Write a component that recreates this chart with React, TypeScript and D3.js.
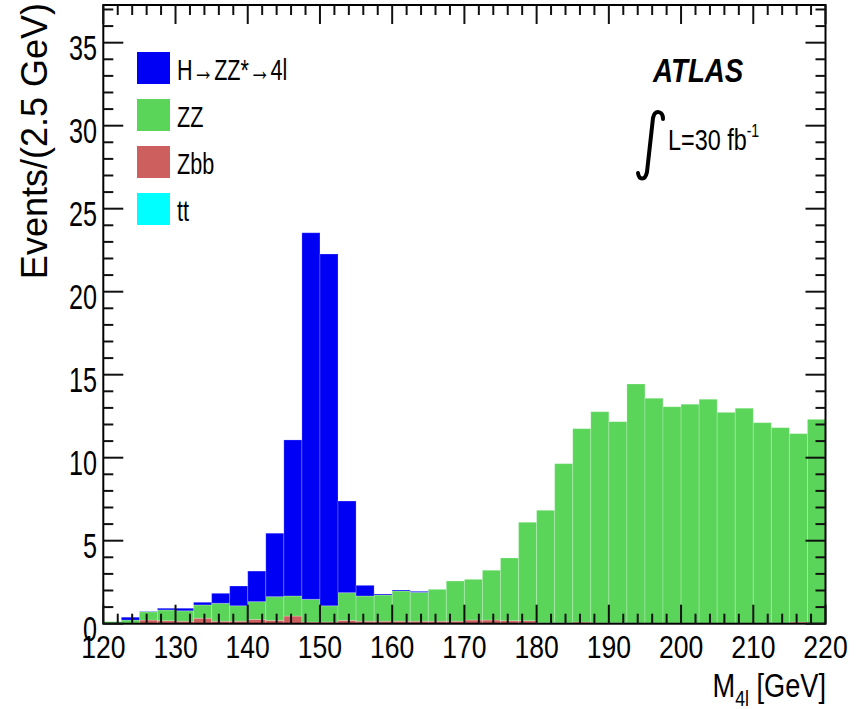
import React, { useEffect, useRef } from 'react';
import * as d3 from 'd3';

// 40 bins of 2.5 GeV between 120 and 220 GeV
const binStart: number[] = d3.range(120, 220, 2.5);

// event counts per bin (stacked bottom -> top: tt, Zbb, ZZ, H)
const ttEvents = [
  0, 0, 0, 0, 0, 0, 0, 0, 0, 0,
  0, 0, 0, 0, 0, 0, 0, 0, 0, 0,
  0, 0, 0, 0, 0, 0, 0, 0, 0, 0,
  0, 0, 0, 0, 0, 0, 0, 0, 0, 0,
];
const zbbEvents = [
  0.02, 0.03, 0.22, 0.18, 0.15, 0.33, 0.15, 0.15, 0.26, 0.2,
  0.46, 0.1, 0.1, 0.2, 0.15, 0.15, 0.15, 0.15, 0.15, 0.15,
  0.22, 0.22, 0.18, 0.18, 0.05, 0.05, 0.1, 0.05, 0.05, 0.04,
  0.04, 0.04, 0.04, 0.04, 0.04, 0.04, 0.04, 0.04, 0.1, 0.04,
];
const zzEvents = [
  0.1, 0.19, 0.5, 0.65, 0.63, 0.8, 1.08, 0.93, 1.07, 1.43,
  1.21, 1.37, 0.98, 1.67, 1.52, 1.58, 1.82, 1.74, 1.92, 2.42,
  2.45, 3.0, 3.78, 5.93, 6.78, 9.59, 11.65, 12.72, 12.12, 14.4,
  13.54, 13.03, 13.18, 13.48, 12.69, 12.94, 12.07, 11.77, 11.35, 12.27,
];
const higgsEvents = [
  0, 0.17, 0.02, 0.1, 0.15, 0.16, 0.6, 1.19, 1.84, 3.82,
  9.4, 22.08, 21.19, 5.52, 0.64, 0.06, 0.06, 0.06, 0, 0,
  0, 0, 0, 0, 0, 0, 0, 0, 0, 0,
  0, 0, 0, 0, 0, 0, 0, 0, 0, 0,
];

const xTickLabels = [120, 130, 140, 150, 160, 170, 180, 190, 200, 210, 220];
const yTickLabels = [0, 5, 10, 15, 20, 25, 30, 35];

const legendLabels = ['H→ZZ*→4l', 'ZZ', 'Zbb', 'tt'];
const legendColors = ['#0000f5', '#5ad55a', '#cd5f5f', '#00ffff'];

const FONT = '"Liberation Sans", Arial, Helvetica, sans-serif';

const App: React.FC = () => {
  const svgRef = useRef<SVGSVGElement>(null);

  useEffect(() => {
    document.body.style.margin = '0';
    if (!svgRef.current) return;

    const width = 866;
    const height = 709;
    const left = 103.3, right = 825.5, top = 5, bottom = 623.7;

    const svg = d3.select(svgRef.current);
    svg.selectAll('*').remove();
    svg.attr('width', width).attr('height', height).style('display', 'block');

    svg.append('rect').attr('width', width).attr('height', height).attr('fill', '#ffffff');

    const x = d3.scaleLinear().domain([120, 220]).range([left, right]);
    const y = d3.scaleLinear().domain([0, 37.27]).range([bottom, top]);

    // stacked histogram
    const rows = binStart.map((b, i) => ({
      lo: b,
      tt: ttEvents[i],
      zbb: zbbEvents[i],
      zz: zzEvents[i],
      h: higgsEvents[i],
    }));
    const keys = ['tt', 'zbb', 'zz', 'h'];
    const fills: Record<string, string> = {
      tt: legendColors[3],
      zbb: legendColors[2],
      zz: legendColors[1],
      h: legendColors[0],
    };
    const series = d3.stack<any>().keys(keys)(rows);

    const bars = svg.append('g');
    series.forEach((s) => {
      bars.append('g')
        .selectAll('rect')
        .data(s)
        .join('rect')
        .attr('x', (d: any) => x(d.data.lo))
        .attr('width', (d: any) => x(d.data.lo + 2.5) - x(d.data.lo))
        .attr('y', (d: any) => y(d[1]))
        .attr('height', (d: any) => Math.max(0, y(d[0]) - y(d[1])))
        .attr('fill', fills[s.key])
        .attr('stroke', '#ffffff')
        .attr('stroke-opacity', 0.22)
        .attr('stroke-width', 1);
    });

    // frame
    svg.append('rect')
      .attr('x', left).attr('y', top)
      .attr('width', right - left).attr('height', bottom - top)
      .attr('fill', 'none').attr('stroke', '#000').attr('stroke-width', 2);

    // ticks
    const ticks = svg.append('g').attr('stroke', '#111').attr('stroke-width', 2);
    d3.range(120, 220.01, 2).forEach((v) => {
      const major = Math.abs(v % 10) < 1e-6;
      const len = major ? 19 : 10;
      ticks.append('line').attr('x1', x(v)).attr('x2', x(v)).attr('y1', bottom).attr('y2', bottom - len);
      ticks.append('line').attr('x1', x(v)).attr('x2', x(v)).attr('y1', top).attr('y2', top + len);
    });
    d3.range(0, 37.01, 1).forEach((v) => {
      const major = v % 5 === 0;
      const len = major ? 20 : 10;
      ticks.append('line').attr('x1', left).attr('x2', left + len).attr('y1', y(v)).attr('y2', y(v));
      ticks.append('line').attr('x1', right).attr('x2', right - len).attr('y1', y(v)).attr('y2', y(v));
    });

    // tick labels
    const xl = svg.append('g').attr('font-family', FONT).attr('font-size', 32).attr('fill', '#000');
    xTickLabels.forEach((v) => {
      xl.append('text')
        .attr('transform', `translate(${x(v)},658) scale(0.83,1)`)
        .attr('text-anchor', 'middle')
        .text(`${v}`);
    });
    const yl = svg.append('g').attr('font-family', FONT).attr('font-size', 35).attr('fill', '#000');
    yTickLabels.forEach((v) => {
      yl.append('text')
        .attr('transform', `translate(97,${y(v) + 17}) scale(0.72,1)`)
        .attr('text-anchor', 'end')
        .text(`${v}`);
    });

    // axis titles
    svg.append('text')
      .attr('transform', 'translate(47,3) rotate(-90)')
      .attr('text-anchor', 'end')
      .attr('font-family', FONT)
      .attr('font-size', 36)
      .text('Events/(2.5 GeV)');

    const xt = svg.append('text')
      .attr('transform', 'translate(826,697) scale(0.8,1)')
      .attr('text-anchor', 'end')
      .attr('font-family', FONT)
      .attr('font-size', 34);
    xt.append('tspan').text('M');
    xt.append('tspan').attr('font-size', 22).attr('dy', 9).text('4l');
    xt.append('tspan').attr('dy', -9).text(' [GeV]');

    // legend
    const lg = svg.append('g').attr('font-family', FONT);
    legendLabels.forEach((lab, i) => {
      const cy = 68 + i * 47;
      lg.append('rect')
        .attr('x', 137).attr('y', cy - 16)
        .attr('width', 33).attr('height', 32)
        .attr('fill', legendColors[i]);
      lg.append('text')
        .attr('transform', `translate(177,${cy + 12}) scale(0.72,1)`)
        .attr('font-size', 30)
        .text(lab);
    });

    // ATLAS label
    svg.append('text')
      .attr('transform', 'translate(653,82) scale(0.84,1)')
      .attr('font-family', FONT)
      .attr('font-size', 33)
      .attr('font-weight', 'bold')
      .attr('font-style', 'italic')
      .text('ATLAS');

    // integrated luminosity
    svg.append('path')
      .attr('d', 'M 663 119 C 663 111, 655 109, 653 118 L 647 172 C 645 181, 639 180, 638 173')
      .attr('fill', 'none')
      .attr('stroke', '#000')
      .attr('stroke-width', 4)
      .attr('stroke-linecap', 'round');
    const lum = svg.append('text')
      .attr('transform', 'translate(668,150) scale(0.78,1)')
      .attr('font-family', FONT)
      .attr('font-size', 30);
    lum.append('tspan').text('L=30 fb');
    lum.append('tspan').attr('font-size', 18).attr('dy', -13).text('-1');
  }, []);

  return <svg ref={svgRef}></svg>;
};

export default App;
